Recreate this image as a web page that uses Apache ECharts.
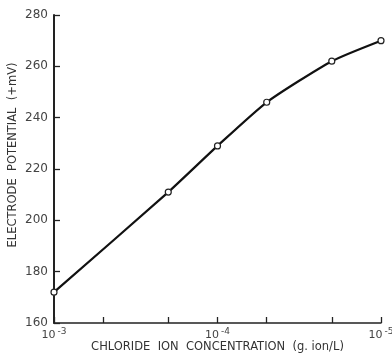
<!DOCTYPE html>
<html>
<head>
<meta charset="utf-8">
<script src="https://cdn.jsdelivr.net/npm/echarts@6/dist/echarts.min.js"></script>
<style>
  html, body { margin: 0; padding: 0; background: #fff; }
  #chart { width: 392px; height: 354px; }
</style>
</head>
<body>
<div id="chart"></div>
<script>
const concentration = [1e-3, 2e-4, 1e-4, 5e-5, 2e-5, 1e-5];
const potential = [172, 211, 229, 246, 262, 270];

// minor ticks on the log axis, and the labelled decades
const tickValues = [1e-3, 5e-4, 2e-4, 1e-4, 5e-5, 2e-5, 1e-5];
const labelValues = [1e-3, 1e-4, 1e-5];
const yTicks = [160, 180, 200, 220, 240, 260, 280];

// plot on exponent scale so the axis is logarithmic
const lg = v => Math.log10(v);
const points = concentration.map((c, i) => [lg(c), potential[i]]);

const ink = '#222';
const font = 'DejaVu Sans';

let chart = echarts.init(document.getElementById('chart'));

chart.setOption({
    backgroundColor: '#fff',
    animation: false,
    grid: { left: 54, right: 11, top: 15, bottom: 31, outerBoundsMode: 'none' },
    xAxis: {
        type: 'value',
        min: -5,
        max: -3,
        inverse: true,
        splitLine: { show: false },
        axisLine: { lineStyle: { color: ink, width: 1.5 } },
        axisTick: {
            inside: true,
            length: 6,
            customValues: tickValues.map(lg),
            lineStyle: { color: ink, width: 1.3 }
        },
        axisLabel: {
            customValues: labelValues.map(lg),
            margin: 4,
            formatter: v => '{b|10}{s|' + Math.round(v) + '}',
            rich: {
                b: { fontFamily: font, fontSize: 11, color: '#444' },
                s: { fontFamily: font, fontSize: 9, color: '#444', verticalAlign: 'top', padding: [0, 0, 8, 2] }
            }
        },
        name: 'CHLORIDE  ION  CONCENTRATION  (g. ion/L)',
        nameLocation: 'middle',
        nameMoveOverlap: false,
        nameGap: 18,
        nameTextStyle: { fontFamily: font, fontSize: 11.5, color: '#333' }
    },
    yAxis: {
        type: 'value',
        min: 160,
        max: 280,
        interval: 20,
        splitLine: { show: false },
        axisLine: { show: true, lineStyle: { color: ink, width: 2 } },
        axisTick: {
            inside: true,
            length: 6,
            customValues: yTicks,
            lineStyle: { color: ink, width: 1.3 }
        },
        axisLabel: {
            margin: 6,
            fontFamily: font,
            fontSize: 12,
            color: '#444'
        },
        name: 'ELECTRODE  POTENTIAL  (+mV)',
        nameLocation: 'middle',
        nameMoveOverlap: false,
        nameGap: 35,
        nameRotate: 90,
        nameTextStyle: { fontFamily: font, fontSize: 11.5, color: '#333', padding: [0, 0, 0, 28] }
    },
    series: [{
        type: 'line',
        data: points,
        smooth: 0.2,
        symbol: 'circle',
        symbolSize: 6,
        showSymbol: true,
        itemStyle: { color: '#fff', borderColor: ink, borderWidth: 1.2 },
        lineStyle: { color: '#111', width: 2.2 }
    }]
});
</script>
</body>
</html>
